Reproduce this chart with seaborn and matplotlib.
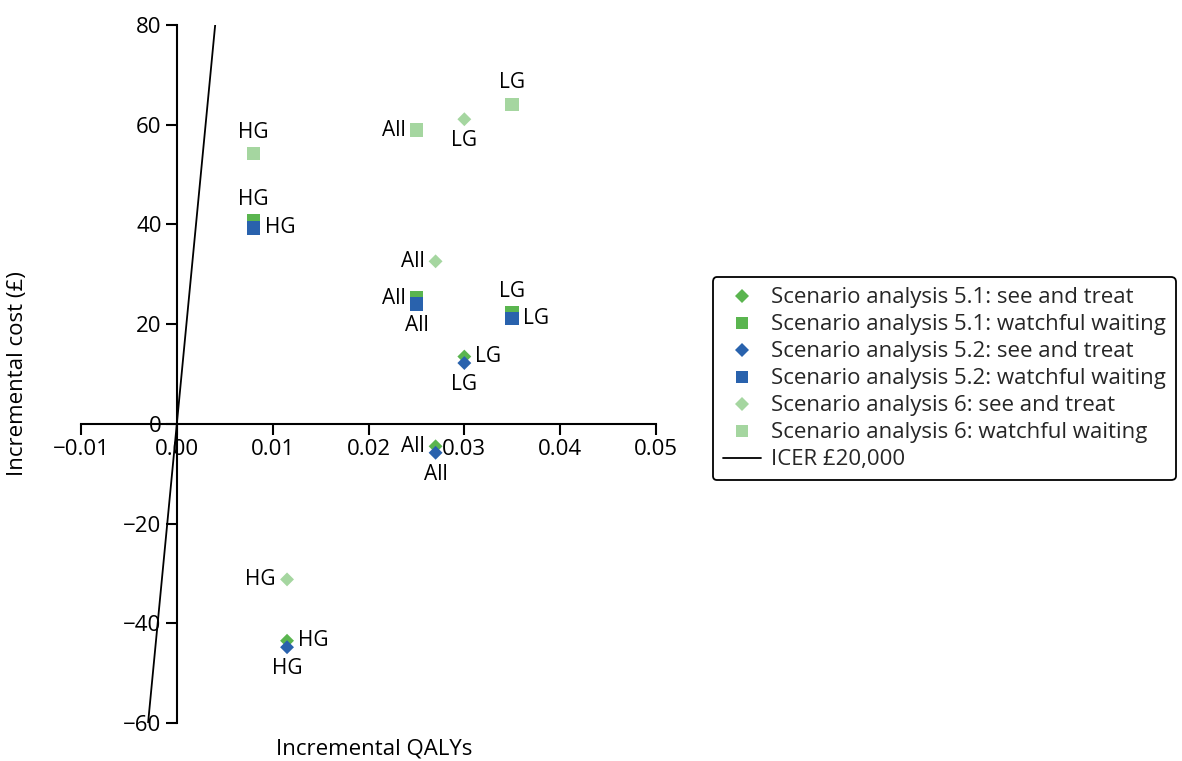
import matplotlib
matplotlib.use("Agg")
import matplotlib.pyplot as plt
import seaborn as sns
import numpy as np
import pandas as pd
from matplotlib.lines import Line2D

sns.set_theme(style="white")
plt.rcParams['font.family'] = ['Open Sans', 'DejaVu Sans']

groups = ["All", "LG", "HG"]

# Incremental QALYs / cost per series (All, LG, HG)
st_qaly = [0.027, 0.030, 0.0115]
ww_qaly = [0.025, 0.035, 0.008]

s51_st_cost = [-4.5, 13.5, -43.5]
s52_st_cost = [-5.8, 12.2, -44.8]
s6_st_cost = [32.6, 61.1, -31.2]
s51_ww_cost = [25.2, 22.3, 40.7]
s52_ww_cost = [24.0, 21.1, 39.3]
s6_ww_cost = [58.9, 64.1, 54.2]

icer_threshold = 20000

series_names = [
    "Scenario analysis 5.1: see and treat",
    "Scenario analysis 5.1: watchful waiting",
    "Scenario analysis 5.2: see and treat",
    "Scenario analysis 5.2: watchful waiting",
    "Scenario analysis 6: see and treat",
    "Scenario analysis 6: watchful waiting",
]

GREEN = "#5ab54f"
BLUE = "#2962ad"
LIGHT = "#a5d6a0"

series = [
    (series_names[0], st_qaly, s51_st_cost, GREEN, "D"),
    (series_names[1], ww_qaly, s51_ww_cost, GREEN, "s"),
    (series_names[4], st_qaly, s6_st_cost, LIGHT, "D"),
    (series_names[5], ww_qaly, s6_ww_cost, LIGHT, "s"),
    (series_names[2], st_qaly, s52_st_cost, BLUE, "D"),
    (series_names[3], ww_qaly, s52_ww_cost, BLUE, "s"),
]

# label offsets (points) per series name, per group: (dx, dy, ha, va)
A = ("above", 0, 8, "center", "bottom")
B = ("below", 0, -8, "center", "top")
L = ("left", -8, 0, "right", "center")
R = ("right", 8, 0, "left", "center")
label_pos = {
    series_names[0]: [L, R, R],
    series_names[1]: [L, A, A],
    series_names[2]: [B, B, B],
    series_names[3]: [B, R, R],
    series_names[4]: [L, B, L],
    series_names[5]: [L, A, A],
}

fig = plt.figure(figsize=(11.82, 7.61), dpi=100)
ax = fig.add_axes([81 / 1182, 1 - 723 / 761, (656 - 81) / 1182, (723 - 25) / 761])

for name, xs, ys, col, mk in series:
    df = pd.DataFrame({"x": xs, "y": ys})
    size = 95 if mk == "s" else 50
    sns.scatterplot(data=df, x="x", y="y", ax=ax, color=col, marker=mk, s=size,
                    edgecolor="none", linewidth=0, zorder=3, legend=False)
    for g, x, y, pos in zip(groups, xs, ys, label_pos[name]):
        _, dx, dy, ha, va = pos
        ax.annotate(g, (x, y), xytext=(dx, dy), textcoords="offset points",
                    ha=ha, va=va, fontsize=15, color="black", zorder=4)

ylim = (-60, 80)
icer_df = pd.DataFrame({"x": [ylim[0] / icer_threshold, ylim[1] / icer_threshold],
                        "y": list(ylim)})
sns.lineplot(data=icer_df, x="x", y="y", ax=ax, color="black", linewidth=1.3, zorder=2)

ax.set_xlim(-0.01, 0.05)
ax.set_ylim(*ylim)
ax.set_xticks([-0.01, 0.0, 0.01, 0.02, 0.03, 0.04, 0.05])
ax.set_xticklabels(["\u22120.01", "0.00", "0.01", "0.02", "0.03", "0.04", "0.05"])
ax.set_yticks([-60, -40, -20, 0, 20, 40, 60, 80])
ax.set_yticklabels(["\u221260", "\u221240", "\u221220", "0", "20", "40", "60", "80"])

for sp in ["top", "right"]:
    ax.spines[sp].set_visible(False)
ax.spines["left"].set_position(("data", 0))
ax.spines["bottom"].set_position(("data", 0))
for sp in ["left", "bottom"]:
    ax.spines[sp].set_color("black")
    ax.spines[sp].set_linewidth(1.5)
ax.tick_params(axis="both", which="major", direction="out", length=8, width=1.5,
               color="black", labelsize=16, labelcolor="black", pad=3,
               bottom=True, left=True)

ax.set_xlabel("Incremental QALYs", fontsize=16, color="black")
ax.set_ylabel("Incremental cost (\u00a3)", fontsize=16, color="black")
ax.xaxis.set_label_coords(0.51, -0.022)
ax.yaxis.set_label_coords(-0.092, 0.5)

handles = []
for name, col, mk in [(series_names[0], GREEN, "D"), (series_names[1], GREEN, "s"),
                      (series_names[2], BLUE, "D"), (series_names[3], BLUE, "s"),
                      (series_names[4], LIGHT, "D"), (series_names[5], LIGHT, "s")]:
    handles.append(Line2D([], [], linestyle="none", marker=mk, color=col,
                          markersize=7 if mk == "D" else 9, markeredgewidth=0, label=name))
handles.append(Line2D([], [], color="black", linewidth=1.3, label="ICER \u00a320,000"))

leg = fig.legend(handles=handles, loc="center left",
                 bbox_to_anchor=(713 / 1182, 1 - 379 / 761), fontsize=16,
                 frameon=True, fancybox=True, edgecolor="black", framealpha=1,
                 handlelength=1.7, handletextpad=0.45, labelspacing=0.27,
                 borderpad=0.45, borderaxespad=0)
leg.get_frame().set_linewidth(1.3)

fig.savefig("out.png", dpi=100)
